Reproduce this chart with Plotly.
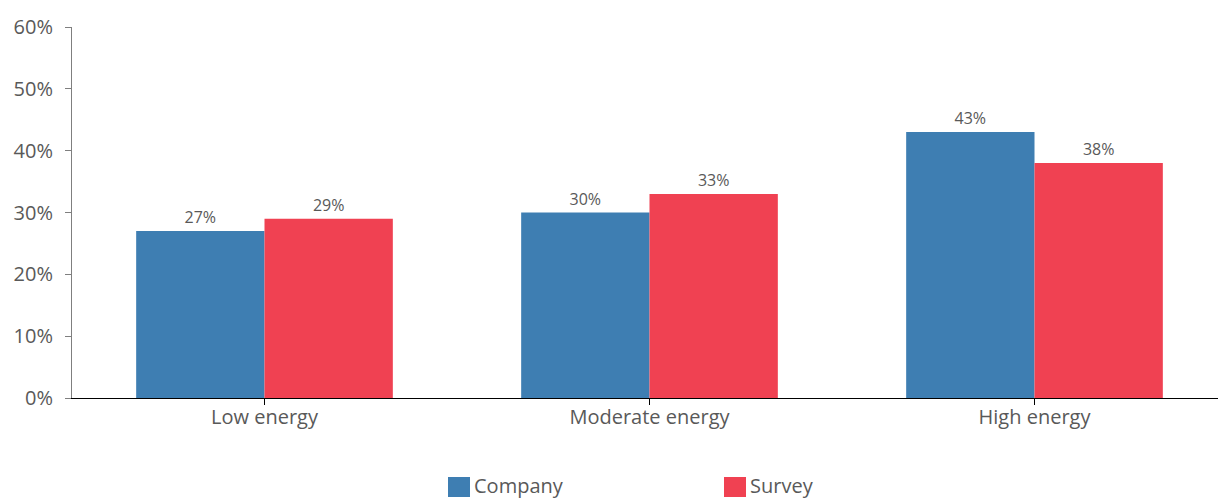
import plotly.graph_objects as go

categories = ["Low energy", "Moderate energy", "High energy"]
company = [27, 30, 43]
survey = [29, 33, 38]
y_ticks = [0, 10, 20, 30, 40, 50, 60]
y_tick_labels = ["0%", "10%", "20%", "30%", "40%", "50%", "60%"]

BLUE = "#3E7EB2"
RED = "#F04152"
TEXT = "#595959"
FONT = "Open Sans"

W, H = 1218, 498
ML, MT, MB = 72, 27, 100
PW, PH = W - ML, H - MT - MB

x_pos = list(range(len(categories)))

fig = go.Figure()
for name, vals, color in [("Company", company, BLUE), ("Survey", survey, RED)]:
    fig.add_trace(go.Bar(
        x=x_pos, y=vals, name=name, marker_color=color, marker_line_width=0,
        showlegend=False,
        text=[f"{v}%" for v in vals], textposition="outside",
        textfont=dict(size=16, color=TEXT, family=FONT), cliponaxis=False,
    ))

# Bottom legend: square swatch followed by its label
legend_items = [("Company", BLUE, 448), ("Survey", RED, 724)]
for name, color, px in legend_items:
    x0 = (px - ML) / PW
    x1 = (px + 22 - ML) / PW
    y0 = (MT + PH - 497) / PH
    y1 = (MT + PH - 477) / PH
    fig.add_shape(type="rect", xref="paper", yref="paper",
                  x0=x0, x1=x1, y0=y0, y1=y1,
                  fillcolor=color, line_width=0)
    fig.add_annotation(xref="paper", yref="paper",
                       x=(px + 24 - ML) / PW, y=(MT + PH - 485) / PH,
                       xanchor="left", yanchor="middle", showarrow=False,
                       text=name, font=dict(size=20, color=TEXT, family=FONT))

fig.update_layout(
    width=W, height=H,
    margin=dict(l=ML, r=0, t=MT, b=MB, autoexpand=False),
    paper_bgcolor="white", plot_bgcolor="white",
    barmode="group", bargap=1/3, bargroupgap=0,
    font=dict(family=FONT, color=TEXT, size=20),
    showlegend=False,
)
fig.update_xaxes(
    range=[-0.5, -0.5 + PW / 385],
    tickmode="array", tickvals=x_pos, ticktext=categories,
    showline=True, linecolor="black", linewidth=1,
    ticks="outside", ticklen=6, tickcolor="black",
    ticklabelstandoff=-5,
    tickfont=dict(size=20, color=TEXT, family=FONT),
    showgrid=False, zeroline=False,
)
fig.update_yaxes(
    range=[0, 60], tickmode="array", tickvals=y_ticks, ticktext=y_tick_labels,
    showline=True, linecolor="#7F7F7F", linewidth=1,
    ticks="outside", ticklen=6, tickcolor="#7F7F7F",
    ticklabelstandoff=8,
    tickfont=dict(size=20, color=TEXT, family=FONT),
    showgrid=False, zeroline=False,
)

fig.write_html("out.html")
